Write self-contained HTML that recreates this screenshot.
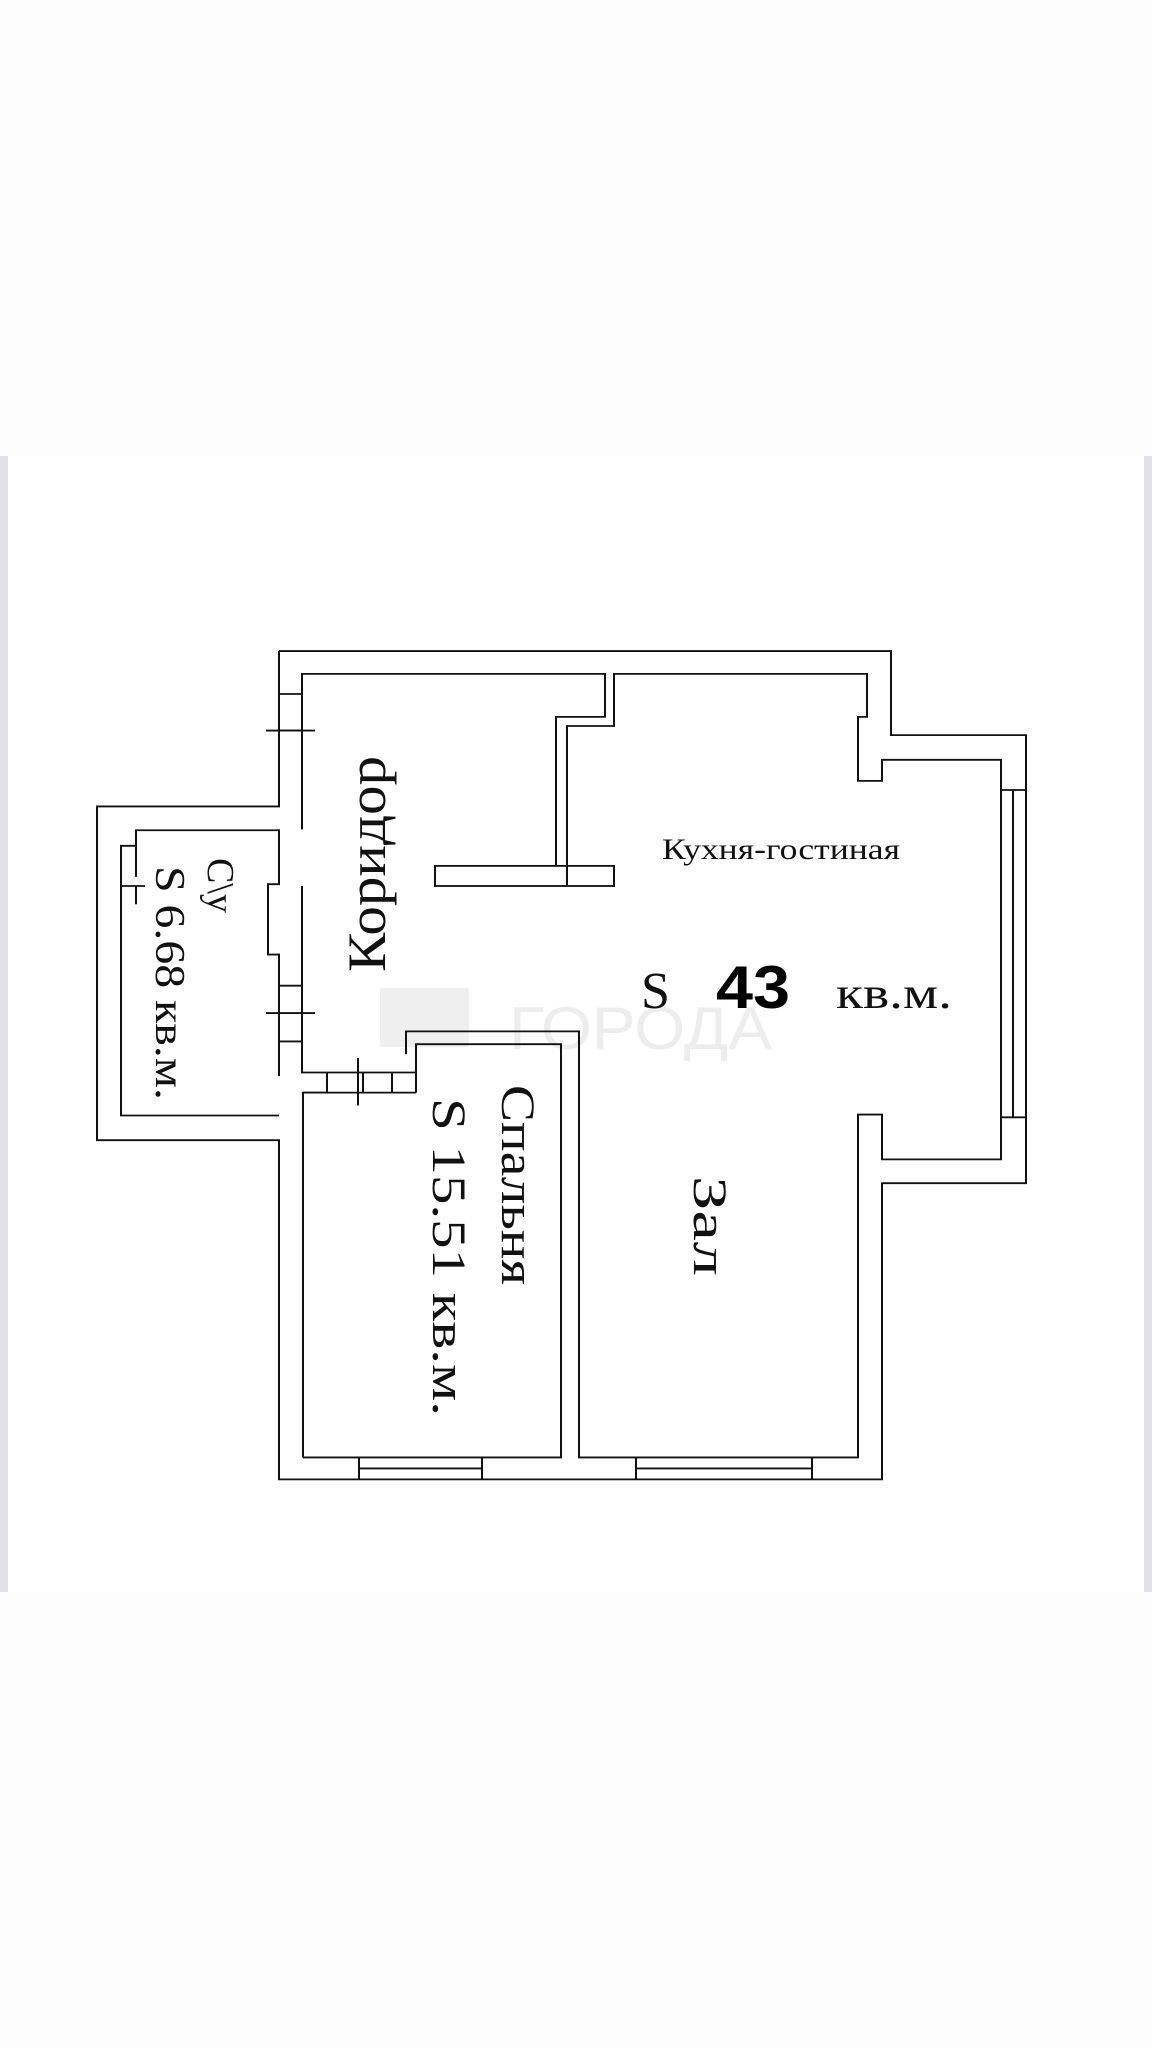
<!DOCTYPE html>
<html><head><meta charset="utf-8"><style>
html,body{margin:0;padding:0;background:#fdfdfd;}
svg{display:block}
</style></head><body>
<svg width="1152" height="2048" viewBox="0 0 1152 2048" xmlns="http://www.w3.org/2000/svg">
<rect x="0" y="0" width="1152" height="2048" fill="#fdfdfd"/>
<rect x="0" y="456" width="1152" height="1136" fill="#fff"/>
<rect x="0" y="456" width="8" height="1136" fill="#e2e2e6"/>
<rect x="1144" y="456" width="8" height="1136" fill="#e2e2e6"/>
<!-- watermark -->
<rect x="380" y="988" width="89" height="59" fill="#efefef"/>
<text x="509" y="1049" font-family="Liberation Sans, sans-serif" font-size="60" fill="#ededed" textLength="263" lengthAdjust="spacingAndGlyphs">ГОРОДА</text>
<g transform="translate(0,630) scale(1,0.9143) translate(0,-630)">
<g fill="none" stroke="#111" stroke-width="2">
<polyline points="279,653 891,653 891,745 1026,745 1026,1235 882,1235 882,1559 279,1559 279,1188 97,1188 97,823 279,823 279,653"/>
<polyline points="302,848 302,678 605,678 605,725 556,725 556,888"/>
<polyline points="567,909 567,735 614,735 614,678 867,678 867,725 858,725 858,795 882,795 882,772 1001,772 1001,1209 882,1209 882,1160 858,1160 858,1535 579,1535 579,1069 406,1069 406,1094"/>
<rect x="435" y="888" width="179" height="22"/>
<polyline points="302,910 302,1114 416,1114 416,1094"/>
<line x1="279" y1="700" x2="302" y2="700"/><line x1="279" y1="740" x2="302" y2="740"/>
<line x1="266" y1="740" x2="315" y2="740"/>
<line x1="279" y1="1019" x2="302" y2="1019"/><line x1="266" y1="1049" x2="315" y2="1049"/><line x1="279" y1="1080" x2="302" y2="1080"/>
<polyline points="279,1118 279,985 268,985 268,908 279,908 279,848"/>
<polyline points="279,1161 121,1161 121,866 136,866 136,849 279,849"/>
<line x1="136" y1="866" x2="136" y2="900"/>
<line x1="121" y1="910" x2="145" y2="910"/>
<line x1="136" y1="910" x2="136" y2="930"/>
<polyline points="303,1535 303,1136 327,1136 327,1114"/>
<line x1="303" y1="1136" x2="416" y2="1136"/>
<line x1="363" y1="1114" x2="363" y2="1136"/>
<line x1="358" y1="1098" x2="358" y2="1150"/>
<line x1="392" y1="1114" x2="392" y2="1136"/>
<polyline points="416,1136 416,1083 561,1083 561,1535 303,1535"/>
<line x1="359" y1="1535" x2="359" y2="1559"/><line x1="482" y1="1535" x2="482" y2="1559"/>
<line x1="359" y1="1547" x2="482" y2="1547"/>
<line x1="636" y1="1535" x2="636" y2="1559"/><line x1="812" y1="1535" x2="812" y2="1559"/>
<line x1="636" y1="1547" x2="812" y2="1547"/>
<line x1="1001" y1="805" x2="1026" y2="805"/><line x1="1001" y1="1163" x2="1026" y2="1163"/>
<line x1="1013" y1="805" x2="1013" y2="1163"/>
</g>
</g>
<g font-family="Liberation Serif, 'Noto Serif CJK SC', serif" fill="#111">
<text transform="translate(385,972) rotate(-90)" font-size="54" textLength="216" lengthAdjust="spacingAndGlyphs">Коридор</text>
<text transform="translate(208,858) rotate(90)" font-size="38">С\у</text>
<text transform="translate(156,866) rotate(90)" font-size="42" textLength="234" lengthAdjust="spacingAndGlyphs">S 6.68 кв.м.</text>
<text transform="translate(502,1085) rotate(90)" font-size="48" textLength="200" lengthAdjust="spacingAndGlyphs">Спальня</text>
<text transform="translate(433,1098) rotate(90)" font-size="48" textLength="318" lengthAdjust="spacingAndGlyphs">S 15.51 кв.м.</text>
<text transform="translate(694,1176) rotate(90)" font-size="48" textLength="100" lengthAdjust="spacingAndGlyphs">Зал</text>
<text x="662" y="859" font-size="30" textLength="238" lengthAdjust="spacingAndGlyphs">Кухня-гостиная</text>
<text x="641" y="1008" font-size="52">S</text>
<text x="836" y="1008" font-size="44" textLength="116" lengthAdjust="spacingAndGlyphs">кв.м.</text>
</g>
<text x="716" y="1008" font-family="Liberation Sans, sans-serif" font-weight="bold" font-size="60" fill="#000" textLength="74" lengthAdjust="spacingAndGlyphs">43</text>
</svg>
</body></html>
